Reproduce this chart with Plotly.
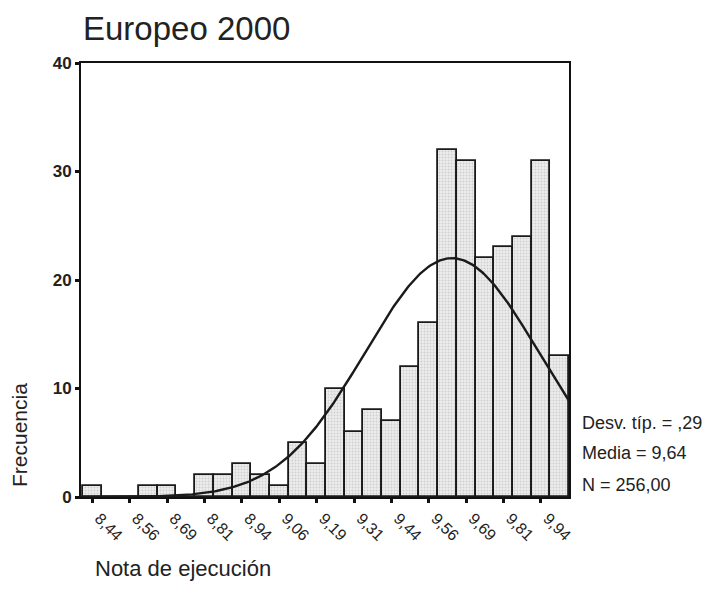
import numpy as np
import plotly.graph_objects as go

# Histogram data (bin centers and counts)
bin_start = 8.4375
bin_width = 0.0625
counts = [1, 0, 0, 1, 1, 0, 2, 2, 3, 2, 1, 5, 3, 10, 6, 8, 7, 12, 16, 32, 31, 22, 23, 24, 31, 13]
bin_centers = [bin_start + bin_width * i for i in range(len(counts))]

tick_labels = ["8,44", "8,56", "8,69", "8,81", "8,94", "9,06", "9,19",
               "9,31", "9,44", "9,56", "9,69", "9,81", "9,94"]
tick_vals = bin_centers[0:26:2]

# Summary stats
std_dev = 0.29
mean = 9.64
n_total = 256
stats_lines = ["Desv. típ. = ,29", "Media = 9,64", "N = 256,00"]

x_min = 8.3995
x_max = bin_centers[-1] + bin_width / 2

xs = np.linspace(x_min, x_max, 300)
ys = n_total * bin_width / (std_dev * np.sqrt(2 * np.pi)) * np.exp(-0.5 * ((xs - mean) / std_dev) ** 2)

FONT = "Liberation Sans, Arial, sans-serif"
W, H = 708, 608
ML, MR, MT, MB = 81, 139, 63, 111
PW = W - ML - MR
PH = H - MT - MB


def px(xpix):
    return (xpix - ML) / PW


def py(ypix):
    return (H - MB - ypix) / PH


fig = go.Figure()
fig.add_trace(go.Bar(
    x=bin_centers, y=counts, width=bin_width,
    marker=dict(color="#e6e6e6", line=dict(color="#1a1a1a", width=1.8),
                pattern=dict(shape=".", fgcolor="#b4b4b4", bgcolor="#ececec", size=3, solidity=0.35)),
    showlegend=False, hoverinfo="skip"))
fig.add_trace(go.Scatter(x=xs, y=ys, mode="lines", line=dict(color="#1a1a1a", width=2.4),
                         showlegend=False, hoverinfo="skip"))

annotations = [
    dict(text="Europeo 2000", x=px(81), y=py(28), xref="paper", yref="paper",
         showarrow=False, font=dict(size=33, family=FONT, color="#222"),
         xanchor="left", yanchor="middle"),
    dict(text="Frecuencia", x=px(19), y=py(435), xref="paper", yref="paper", textangle=-90,
         showarrow=False, font=dict(size=21, family=FONT, color="#222"),
         xanchor="center", yanchor="middle"),
    dict(text="Nota de ejecución", x=px(93), y=py(568), xref="paper", yref="paper",
         showarrow=False, font=dict(size=22, family=FONT, color="#222"),
         xanchor="left", yanchor="middle"),
]
for line, ypix in zip(stats_lines, [423, 453, 485]):
    annotations.append(dict(text=line, x=px(580), y=py(ypix), xref="paper", yref="paper",
                            showarrow=False, font=dict(size=18, family=FONT, color="#222"),
                            xanchor="left", yanchor="middle"))

fig.update_layout(
    width=W, height=H,
    margin=dict(l=ML, r=MR, t=MT, b=MB, autoexpand=False),
    paper_bgcolor="white", plot_bgcolor="white",
    font=dict(family=FONT, color="#222222"),
    bargap=0,
    xaxis=dict(range=[x_min, x_max], tickvals=tick_vals, ticktext=tick_labels,
               tickangle=45, ticks="outside", ticklen=4, tickwidth=3, tickcolor="#111",
               ticklabelshift=7,
               showline=True, linecolor="#111", linewidth=1.8, mirror=True, automargin=False,
               showgrid=False, zeroline=False, tickfont=dict(size=16, family=FONT, color="#222")),
    yaxis=dict(range=[0, 40], tickvals=[0, 10, 20, 30, 40], automargin=False,
               ticks="outside", ticklen=4, tickwidth=3, tickcolor="#111",
               showline=True, linecolor="#111", linewidth=1.8, mirror=True,
               showgrid=False, zeroline=False,
               tickfont=dict(size=17, family=FONT, color="#222", weight="bold")),
    annotations=annotations,
)

fig.write_html("out.html", config={"displayModeBar": False},
               post_script="document.body.style.margin='0';")
